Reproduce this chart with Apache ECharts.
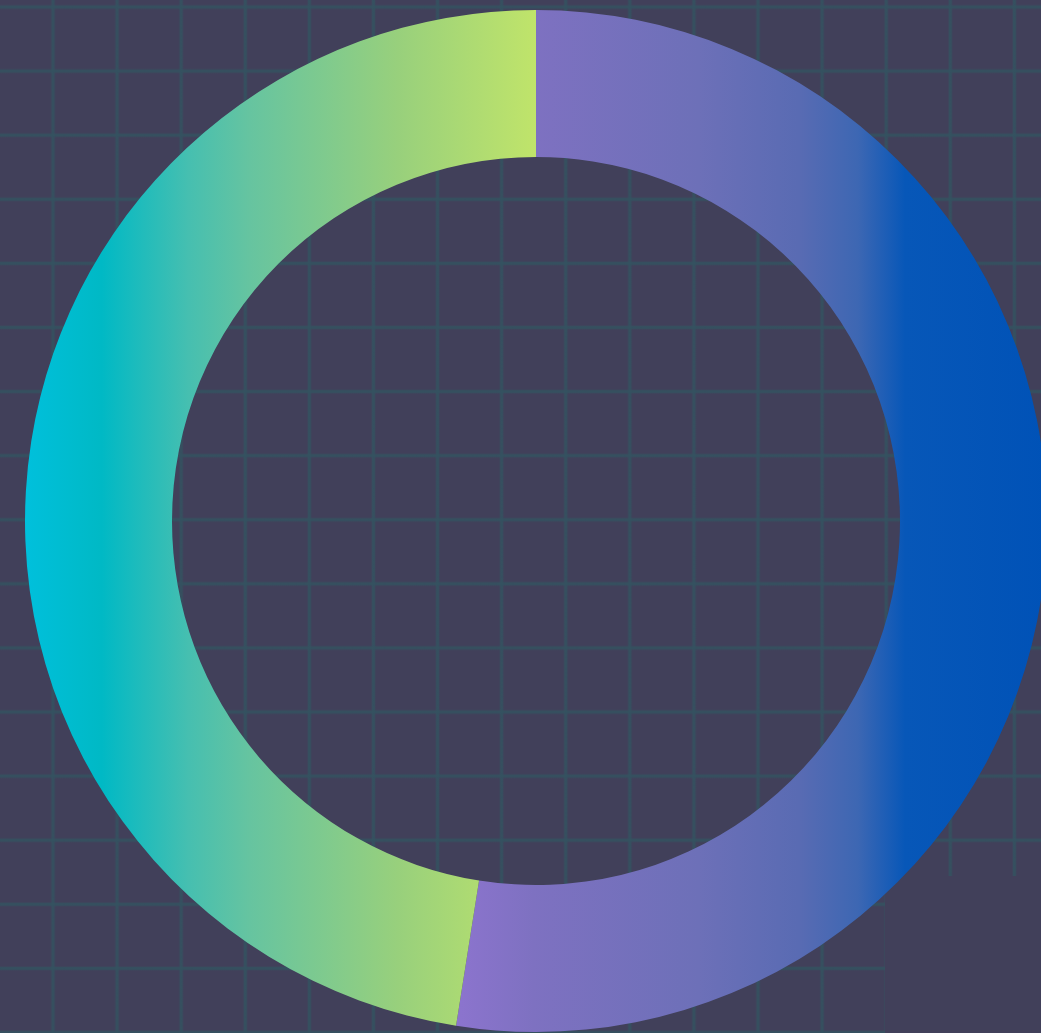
<!DOCTYPE html>
<html>
<head>
<meta charset="utf-8">
<script src="https://cdn.jsdelivr.net/npm/echarts@6/dist/echarts.min.js"></script>
<style>
  html, body { margin: 0; padding: 0; background: #41405a; }
  #wrap {
    position: relative;
    width: 1041px; height: 1033px; overflow: hidden;
    background-color: #41405a;
    background-image:
      linear-gradient(to right, rgba(52,82,96,0) 29.6px, rgba(52,82,96,0.9) 31.2px, rgba(52,82,96,0.9) 32.8px, rgba(52,82,96,0) 34.4px),
      linear-gradient(to bottom, rgba(52,82,96,0) 29.6px, rgba(52,82,96,0.9) 31.2px, rgba(52,82,96,0.9) 32.8px, rgba(52,82,96,0) 34.4px);
    background-size: 64.1px 64.1px, 64.1px 64.1px;
    background-position: 21px 0, 0 -25px;
  }
  /* plain corner patch where the backdrop grid stops */
  #corner {
    position: absolute; left: 885px; top: 876px; right: 0; bottom: 0;
    background: #41405a;
  }
  #chart { position: absolute; left: 0; top: 0; width: 1041px; height: 1033px; }
</style>
</head>
<body>
<div id="wrap">
  <div id="corner"></div>
  <div id="chart"></div>
</div>
<script>
// Two-part share shown as a ring
const names = ['A', 'B'];
const values = [52.5, 47.5];

// Horizontal gradient stops for each part (offset within the slice's box)
const gradientStops = [
  [
    [0.00, '#8c74ce'],
    [0.13, '#7e71c1'],
    [0.41, '#6d70b8'],
    [0.58, '#596bb3'],
    [0.68, '#3d67b3'],
    [0.76, '#0757b8'],
    [1.00, '#0052b7']
  ],
  [
    [0.00, '#00c0dc'],
    [0.15, '#00b9c5'],
    [0.32, '#46bfb0'],
    [0.44, '#66c4a0'],
    [0.73, '#98d07c'],
    [1.00, '#c0e46a']
  ]
];

function toGradient(stops) {
  return new echarts.graphic.LinearGradient(0, 0, 1, 0,
    stops.map(s => ({ offset: s[0], color: s[1] })));
}

const chart = echarts.init(document.getElementById('chart'), null, { renderer: 'canvas' });
chart.setOption({
  backgroundColor: 'transparent',
  animation: false,
  series: [{
    type: 'pie',
    center: [536, 521],
    radius: [364, 511],
    startAngle: 90,
    clockwise: true,
    silent: true,
    label: { show: false },
    labelLine: { show: false },
    itemStyle: { borderWidth: 0 },
    data: names.map((n, i) => ({
      name: n,
      value: values[i],
      itemStyle: { color: toGradient(gradientStops[i]) }
    }))
  }]
});
</script>
</body>
</html>
